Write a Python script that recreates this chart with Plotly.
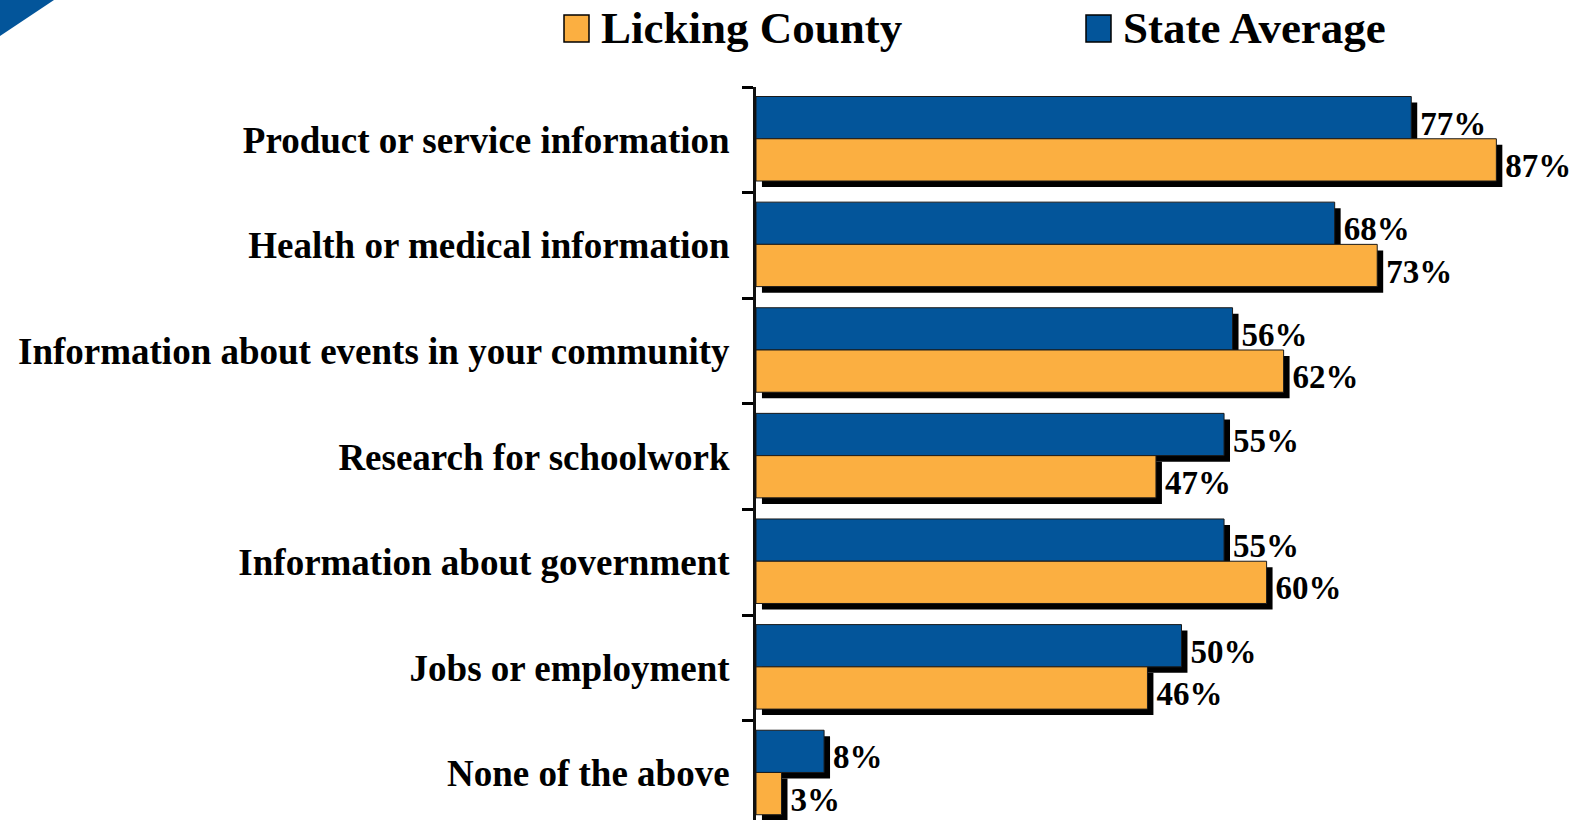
import plotly.graph_objects as go

categories = [
    "Product or service information",
    "Health or medical information",
    "Information about events in your community",
    "Research for schoolwork",
    "Information about government",
    "Jobs or employment",
    "None of the above",
]
state_avg = [77, 68, 56, 55, 55, 50, 8]
licking = [87, 73, 62, 47, 60, 46, 3]
series_names = ["Licking County", "State Average"]

BLUE = "#03559A"
ORANGE = "#FBAF41"
FONT = "Liberation Serif"

W, H = 1575, 820
L, T = 756, 87
PW, PH = W - L, H - T
XMAX = PW / 8.51

def px(x):
    return (x - L) / PW

def py(y):
    return 1 - (y - T) / PH

bw = 0.4
off_blue = -0.41
off_orange = -0.01
dy = 0.057
dx = 0.7

fig = go.Figure()
# shadows
for vals, off in [(state_avg, off_blue), (licking, off_orange)]:
    fig.add_trace(go.Bar(
        y=categories, x=vals, base=dx, orientation="h",
        width=bw, offset=off + dy,
        marker=dict(color="black", line=dict(width=0)),
        text=[f"{v}%" for v in vals], textposition="outside",
        textfont=dict(family=FONT, size=33, color="black", weight="bold"),
        cliponaxis=False, constraintext="none", showlegend=False,
        hoverinfo="skip",
    ))
# fronts
for vals, off, col, name in [(state_avg, off_blue, BLUE, series_names[1]),
                             (licking, off_orange, ORANGE, series_names[0])]:
    fig.add_trace(go.Bar(
        y=categories, x=vals, orientation="h", name=name,
        width=bw, offset=off,
        marker=dict(color=col, line=dict(color="#1a1a1a", width=1)),
        showlegend=False,
    ))

shapes = [
    # decorative corner triangle
    dict(type="path", xref="paper", yref="paper",
         path=f"M {px(0)} {py(0)} L {px(54)} {py(0)} L {px(0)} {py(36)} Z",
         fillcolor=BLUE, line=dict(width=0), layer="above"),
    # legend squares
    dict(type="rect", xref="paper", yref="paper",
         x0=px(564), x1=px(589), y0=py(42), y1=py(15),
         fillcolor=ORANGE, line=dict(color="black", width=1.5)),
    dict(type="rect", xref="paper", yref="paper",
         x0=px(1086), x1=px(1111), y0=py(42), y1=py(15),
         fillcolor=BLUE, line=dict(color="black", width=1.5)),
]
annotations = [
    dict(xref="paper", yref="paper", x=px(599), y=py(28), xanchor="left", yanchor="middle",
         text=series_names[0], showarrow=False,
         font=dict(family=FONT, size=45, color="black", weight="bold")),
    dict(xref="paper", yref="paper", x=px(1121), y=py(28), xanchor="left", yanchor="middle",
         text=series_names[1], showarrow=False,
         font=dict(family=FONT, size=45, color="black", weight="bold")),
]

fig.update_layout(
    width=W, height=H,
    margin=dict(l=L, r=0, t=T, b=0, pad=0),
    paper_bgcolor="white", plot_bgcolor="white",
    barmode="overlay",
    showlegend=False,
    shapes=shapes, annotations=annotations,
    xaxis=dict(range=[0, XMAX], visible=False, fixedrange=True),
    yaxis=dict(
        type="category", categoryorder="array", categoryarray=categories,
        range=[6.44, -0.5], tickson="boundaries", ticks="outside",
        ticklen=11, tickwidth=3, tickcolor="black",
        showline=True, linecolor="#111", linewidth=3,
        showgrid=False, zeroline=False, ticklabelstandoff=16,
        tickfont=dict(family=FONT, size=37, color="black", weight="bold"),
    ),
)

fig.write_html(
    "out.html",
    config={"displayModeBar": False},
    post_script="document.body.style.margin='0';document.body.style.overflow='hidden';",
)
